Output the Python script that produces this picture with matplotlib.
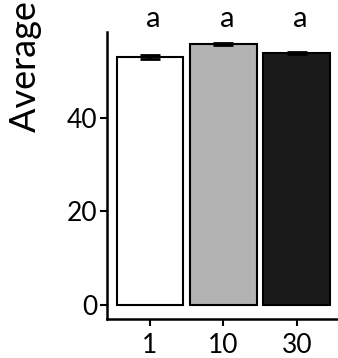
import matplotlib.pyplot as plt

plt.rcParams['font.family'] = ['Lato', 'DejaVu Sans']

groups = ['1', '10', '30']
means = [53.0, 55.8, 53.8]
errors = [0.5, 0.2, 0.2]
letters = ['a', 'a', 'a']
colors = ['#ffffff', '#b3b3b3', '#1a1a1a']

fig = plt.figure(figsize=(3.38, 3.58), dpi=100)
ax = fig.add_axes([0.3166, 0.109, 0.6834, 0.802])

x = range(len(groups))
ax.bar(x, means, width=0.91, color=colors, edgecolor='black', linewidth=1.5)
ax.errorbar(x, means, yerr=errors, fmt='none', ecolor='black',
            elinewidth=3, capsize=7, capthick=2)

for xi, lab in zip(x, letters):
    ax.text(xi + 0.05, 59.5, lab, ha='center', va='baseline', fontsize=21,
            clip_on=False)

ax.set_xlim(-0.585, 2.56)
ax.set_ylim(-3.0, 58.4)
ax.set_xticks(list(x))
ax.set_xticklabels(groups)
ax.set_yticks([0, 20, 40])
ax.tick_params(labelsize=19, width=1.5, length=5, color='black')
ax.tick_params(axis='x', pad=5)
ax.tick_params(axis='y', pad=2)

for s in ['top', 'right']:
    ax.spines[s].set_visible(False)
for s in ['left', 'bottom']:
    ax.spines[s].set_linewidth(1.8)

fig.text(0.075, 226 / 358, 'Average size', rotation=90, ha='center',
         va='bottom', fontsize=26)

fig.savefig('out.png', dpi=100)
